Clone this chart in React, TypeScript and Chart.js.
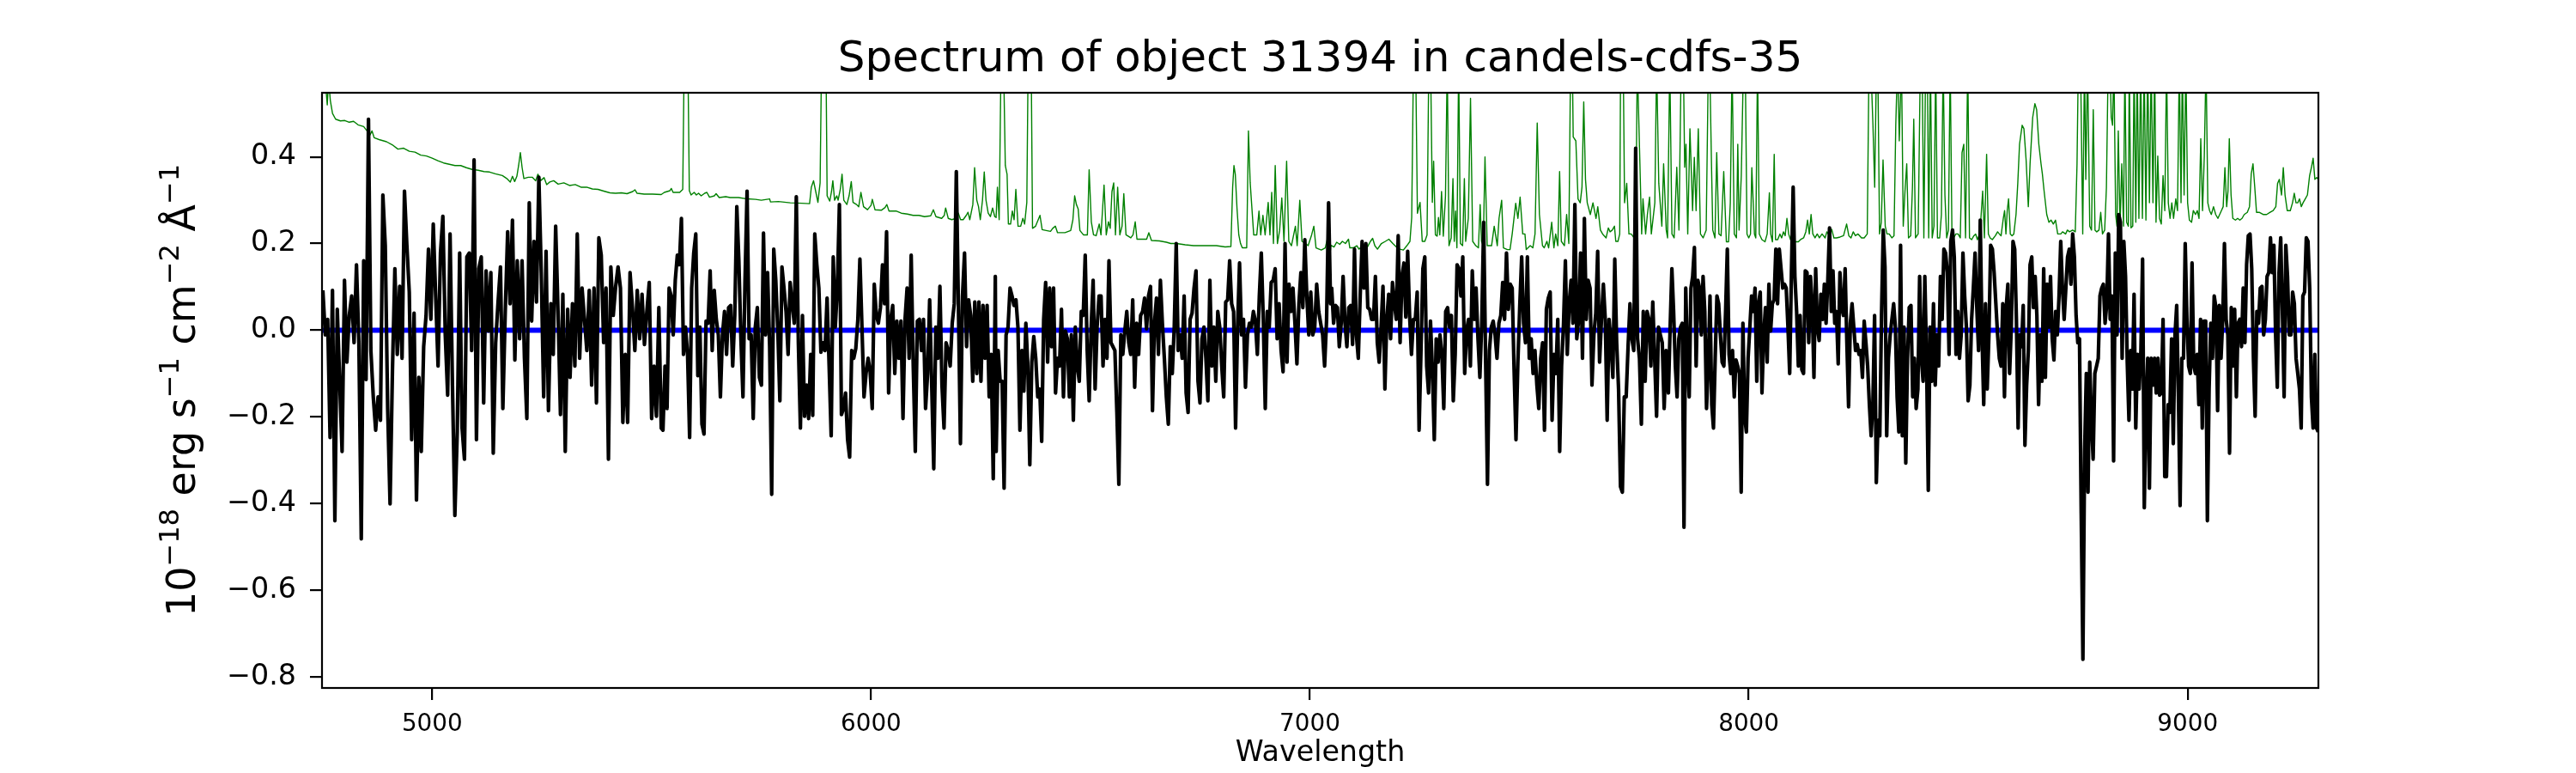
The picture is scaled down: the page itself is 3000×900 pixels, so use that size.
import React, { useEffect, useRef } from "react";
import { Chart, registerables } from "chart.js";

Chart.register(...registerables);

const TITLE = "Spectrum of object 31394 in candels-cdfs-35";
const X_LABEL = "Wavelength";
// [text, isSuperscript]
const Y_LABEL_PARTS: [string, boolean][] = [
  ["10", false],
  ["\u221218", true],
  [" erg s", false],
  ["\u22121", true],
  [" cm", false],
  ["\u22122", true],
  [" \u00c5", false],
  ["\u22121", true],
];

const X_RANGE = [4749, 9298];
const Y_RANGE = [-0.826, 0.548];
const X_TICKS = [5000, 6000, 7000, 8000, 9000];
const Y_TICKS = [-0.8, -0.6, -0.4, -0.2, 0, 0.2, 0.4];
const ZERO_LEVEL = 0;

// Flux (black) — each block sampled evenly between its start/end wavelength
const FLUX_RANGES = [
  [4751, 5522],
  [5525.9, 6283.2],
  [6285.2, 7047.1],
  [7049.7, 7811.6],
  [7813, 8574.9],
  [8578.8, 9297.6],
];

const FLUX_A = [
  0.092, -0.011, 0.025, -0.248, 0.092, -0.44, 0.048, -0.118, -0.28, 0.115,
  -0.074, 0.034, 0.079, -0.029, 0.151, -0.029, -0.482, 0.16, -0.114, 0.487,
  -0.047, -0.154, -0.231, -0.154, -0.208, 0.312, 0.196, -0.181, -0.401, -0.091,
  0.142, -0.056, 0.101, -0.065, 0.321, 0.196, 0.088, -0.253, 0.039, -0.392,
  -0.109, -0.28, -0.038, 0.034, 0.187, 0.025, 0.245, 0.079, -0.083, 0.178,
  0.263, -0.011, -0.15, 0.222, -0.127, -0.428, -0.235, 0.178, -0.226, -0.298,
  0.169, 0.178, -0.047, 0.393, -0.253, 0.142, 0.169, -0.168, 0.137, -0.002,
  0.133, -0.284, -0.029, 0.065, 0.146, -0.181, 0.043, 0.227, 0.061, 0.254,
  -0.069, 0.16, -0.02, 0.16, -0.065, -0.204, 0.294, 0.021, 0.205, 0.065,
  0.353, 0.133, -0.154, 0.182, -0.186, 0.061, -0.056, 0.24, 0.043, -0.195,
  0.083, -0.28, 0.048, -0.109, 0.061, -0.083, 0.222, -0.065, 0.097, 0.025,
  -0.047, 0.092, -0.127, 0.097, -0.168, 0.213, 0.173, -0.029, 0.097, -0.298,
  0.146, 0.034, 0.101, 0.146, 0.097, -0.213, -0.056, -0.213, 0.133, 0.052,
  -0.047, 0.092, -0.02, 0.083, -0.033, 0.043, 0.11, -0.204, -0.083, -0.199,
  0.052, -0.226,
];

const FLUX_B = [
  -0.231, -0.083, -0.181, 0.097, 0.079, -0.011, 0.115, 0.173, 0.151, 0.258,
  -0.056, 0.007, -0.056, -0.248, 0.097, 0.178, 0.222, -0.105, 0.007, -0.217,
  -0.24, 0.021, 0.016, 0.137, -0.047, 0.092, 0.025, -0.011, -0.154, -0.011,
  0.043, -0.056, 0.052, 0.057, -0.083, 0.034, 0.285, 0.16, -0.02, -0.154,
  0.115, 0.321, -0.02, -0.011, -0.204, 0.007, 0.052, -0.109, -0.127, 0.224,
  -0.011, 0.133, -0.038, -0.379, 0.187, 0.115, -0.002, -0.163, 0.146, 0.097,
  0.043, -0.056, 0.11, 0.061, 0.016, 0.308, -0.029, -0.226, 0.034, -0.199,
  -0.127, -0.204, -0.056, -0.197, 0.222, 0.151, 0.097, -0.051, -0.029, -0.047,
  0.074, -0.083, -0.244, 0.169, 0.007, 0.097, 0.29, -0.195, -0.181, -0.145,
  -0.253, -0.293, -0.047, -0.065, -0.042, 0.025, 0.164, 0.007, -0.154, -0.1,
  -0.065, -0.096, -0.181, 0.106, 0.034, 0.016, 0.052, 0.151, 0.061, 0.227,
  -0.145, 0.025, 0.057, -0.1, 0.021, -0.065, 0.021, -0.204, 0.025, 0.097,
  -0.065, 0.173, -0.083, -0.28, 0.021, 0.025, -0.047, 0.025, -0.181, -0.1,
  0.07, -0.127, -0.32, 0.007, -0.065, 0.101, -0.127, -0.226, -0.029, -0.047,
  -0.083, 0.016, 0.061, 0.366, 0.061, -0.262, 0.079, 0.178, -0.038, 0.07,
  0.034, -0.118, 0.065, -0.1, 0.065, -0.118, 0.057, -0.065, 0.057, -0.154,
  -0.056, -0.343, 0.124,
];

const FLUX_C = [
  -0.28, -0.047, -0.118, -0.118, -0.365, -0.011, 0.007, 0.097, 0.079, 0.057,
  0.07, 0.007, -0.231, -0.047, -0.141, 0.016, -0.083, -0.311, -0.074, -0.015,
  -0.065, -0.154, -0.136, -0.257, 0.025, 0.11, -0.074, 0.097, -0.038, 0.097,
  -0.145, -0.065, -0.083, 0.048, -0.154, -0.002, -0.02, -0.154, -0.011, -0.208,
  0.007, -0.083, -0.118, 0.043, 0.034, 0.173, -0.047, -0.163, 0.007, 0.115,
  -0.136, 0.007, 0.079, 0.079, -0.083, 0.025, -0.065, 0.16, -0.029, -0.038,
  -0.047, -0.19, -0.356, -0.011, -0.056, -0.002, 0.043, -0.029, -0.056, 0.07,
  -0.132, 0.016, -0.056, 0.034, 0.043, 0.074, 0.003, 0.079, 0.101, -0.186,
  0.016, 0.074, -0.056, 0.115, 0.016, -0.065, -0.154, -0.217, -0.038, -0.1,
  0.007, 0.2, -0.047, -0.011, -0.065, 0.079, -0.145, -0.19, 0.025, 0.039,
  0.097, 0.137, -0.118, -0.168, -0.02, 0.007, -0.065, -0.163, 0.115, -0.083,
  0.007, -0.118, 0.043, 0.007, -0.083, -0.154, 0.065, 0.07, 0.16, 0.061,
  0.043, -0.226, 0.007, 0.155, -0.011, 0.025, -0.132, -0.011, 0.016, 0.007,
  0.043, 0.021, -0.056, 0.079, 0.178, 0.025, -0.181, 0.043, 0.007, 0.11,
  0.115, 0.142, -0.02, 0.061, -0.047, -0.096, 0.2, -0.074, 0.106, 0.043,
  0.097, 0.016, -0.078, 0.061, 0.133, 0.052, 0.209, 0.079, -0.011, 0.088,
  -0.011, 0.007, 0.106, 0.043, 0.016, -0.011, -0.083, 0.025, 0.294, 0.061,
];

const FLUX_D = [
  0.097, 0.016, 0.057, 0.052, -0.038, 0.016, 0.124, 0.016, -0.038, 0.052,
  0.057, -0.033, 0.187, -0.011, -0.065, 0.079, 0.205, 0.097, 0.2, 0.052,
  0.048, 0.025, 0.025, 0.124, -0.029, -0.074, 0.007, 0.101, -0.136, 0.025,
  0.083, -0.02, 0.11, 0.061, 0.025, 0.218, -0.029, 0.124, 0.155, 0.03,
  0.182, 0.034, -0.056, 0.025, 0.025, 0.088, -0.231, -0.047, 0.142, 0.169,
  -0.083, -0.145, 0.021, -0.091, -0.253, -0.02, -0.074, -0.011, -0.056, -0.181,
  0.043, 0.052, 0.007, 0.034, -0.163, -0.056, 0.151, 0.142, 0.079, 0.169,
  -0.1, -0.002, 0.025, -0.083, 0.137, 0.025, 0.097, -0.02, -0.109, 0.021,
  0.249, -0.065, -0.356, -0.047, 0.007, 0.021, -0.011, -0.065, 0.016, 0.034,
  0.11, 0.025, 0.178, 0.048, 0.106, 0.097, -0.091, -0.253, -0.074, 0.057,
  0.169, 0.016, -0.029, 0.169, -0.065, -0.02, -0.1, -0.047, -0.127, -0.181,
  -0.065, -0.029, -0.231, 0.048, 0.074, 0.088, -0.208, -0.056, -0.1, 0.025,
  -0.28, -0.083, 0.012, 0.16, -0.056, 0.061, 0.115, 0.016, 0.29, -0.02,
  0.025, 0.178, -0.065, 0.258, 0.025, 0.115, 0.097, -0.127, -0.011, 0.039,
  0.182, -0.074, 0.025, 0.106, 0.025, -0.208, 0.025, -0.029, -0.109, 0.164,
  -0.029, -0.136, -0.361, -0.374, -0.154, -0.154, -0.038, 0.061, -0.02, -0.047,
  0.42, -0.02, -0.065, -0.217, 0.043, -0.118, 0.043, 0.025, -0.083, 0.065,
  -0.065, -0.199, 0.007, -0.011, -0.029, -0.181, -0.047,
];

const FLUX_E = [
  -0.065, -0.145, 0.007, 0.142, 0.043, -0.083, -0.154, -0.02, 0.007, 0.016,
  -0.455, 0.097, -0.065, -0.154, 0.097, 0.124, 0.191, -0.083, 0.115, 0.097,
  -0.011, 0.124, 0.043, -0.181, -0.083, 0.079, -0.172, -0.226, -0.065, 0.079,
  0.061, -0.011, -0.074, -0.083, 0.043, 0.187, -0.056, -0.1, -0.047, -0.154,
  -0.069, -0.083, -0.1, -0.374, 0.016, -0.199, -0.235, -0.065, 0.007, 0.079,
  0.043, 0.097, -0.118, 0.061, 0.088, -0.145, -0.011, 0.052, -0.074, 0.106,
  -0.002, 0.061, 0.07, 0.187, 0.061, 0.187, 0.142, 0.097, 0.106, 0.097,
  0.007, -0.1, 0.133, 0.33, 0.124, 0.043, -0.083, 0.034, -0.091, -0.1,
  0.137, 0.133, -0.029, 0.124, 0.061, -0.109, 0.142, 0.007, -0.024, 0.083,
  0.025, 0.106, 0.016, 0.115, 0.236, 0.043, 0.137, 0.016, 0.043, -0.078,
  0.133, 0.052, 0.034, 0.142, -0.029, -0.177, 0.016, 0.061, 0.007, -0.047,
  -0.033, -0.056, -0.047, -0.109, 0.021, -0.029, -0.083, -0.172, -0.244, -0.172,
  0.034, -0.352, -0.208, -0.244, 0.034, 0.231, 0.146, -0.244, -0.065, -0.011,
  0.025, 0.061, 0.007, -0.154, -0.235, 0.196, -0.244, 0.007, -0.307, -0.065,
  0.052, 0.057, -0.154, -0.065, -0.181, -0.136, 0.124, -0.065, -0.118, 0.124,
  -0.065, -0.37, 0.007, -0.118, 0.061, -0.127, -0.011, -0.083, 0.124, 0.025,
  0.187, 0.178, 0.133, -0.056, 0.205, 0.231, 0.169, -0.056, 0.043, -0.065,
  -0.011, 0.178, 0.079, 0.007, -0.163, -0.127, 0.025, 0.097, 0.178, 0.052,
  -0.047, 0.254, -0.011, -0.172, 0.061, -0.136, -0.011, 0.196, 0.187, 0.133,
  0.061, -0.011, -0.065, -0.083,
];

const FLUX_F = [
  0.061, -0.154, 0.052, 0.106, -0.1, 0.007, 0.205, 0.187, 0.025, -0.226,
  -0.011, -0.038, 0.057, -0.266, -0.127, -0.047, 0.151, 0.169, 0.052, 0.124,
  0.034, -0.172, -0.011, -0.118, 0.142, -0.109, 0.106, 0.007, 0.124, -0.02,
  -0.069, 0.043, -0.011, 0.079, 0.205, 0.097, 0.025, 0.097, 0.169, 0.187,
  0.106, 0.222, 0.169, 0.034, -0.029, -0.02, -0.423, -0.76, -0.28, -0.1,
  -0.374, -0.074, -0.208, -0.298, -0.1, -0.083, -0.065, 0.079, 0.097, 0.106,
  0.016, 0.061, 0.222, 0.025, 0.079, -0.302, 0.178, -0.011, 0.267, 0.249,
  -0.065, 0.205, 0.124, -0.074, -0.208, -0.047, -0.136, 0.083, -0.226, -0.056,
  -0.136, -0.047, 0.164, -0.41, -0.172, -0.065, -0.365, -0.065, -0.127, -0.065,
  -0.145, -0.065, -0.15, -0.145, 0.025, -0.338, -0.338, -0.172, -0.19, -0.02,
  -0.262, -0.011, 0.057, -0.154, -0.405, -0.065, -0.065, 0.2, 0.025, -0.083,
  -0.1, 0.155, -0.083, -0.1, -0.056, -0.172, 0.025, -0.226, 0.021, 0.021,
  -0.44, -0.136, 0.016, -0.065, 0.079, 0.052, -0.186, 0.057, -0.065, 0.025,
  0.2, 0.025, -0.011, -0.284, 0.052, -0.083, 0.048, -0.154, 0.016, 0.025,
  -0.038, 0.097, -0.029, 0.151, 0.218, 0.222, 0.142, -0.065, -0.199, 0.043,
  0.016, 0.097, 0.101, -0.011, 0.025, 0.124, 0.133, 0.213, 0.133, 0.196,
  -0.011, -0.132, 0.133, 0.213, 0.043, -0.154, 0.196, 0.124, -0.011, -0.011,
  0.088, 0.061, -0.065, -0.1, -0.136, -0.226, 0.079, 0.088, 0.213, 0.205,
  0.097, -0.154, -0.226, -0.056, -0.226, -0.235,
];

const FLUX_SEGMENTS = [FLUX_A, FLUX_B, FLUX_C, FLUX_D, FLUX_E, FLUX_F];

// Noise (green) — [wavelength, value]
const NOISE_A = [
  [4751, 0.6], [4757, 0.57], [4761, 0.52], [4764, 0.58], [4768, 0.53], [4773, 0.5], [4780, 0.487],
  [4791, 0.483], [4801, 0.484], [4811, 0.48], [4821, 0.482], [4831, 0.474], [4844, 0.47], [4853, 0.458],
  [4858, 0.45], [4863, 0.46], [4868, 0.444], [4879, 0.44], [4896, 0.435], [4909, 0.428], [4922, 0.418],
  [4935, 0.42], [4948, 0.413], [4961, 0.411], [4974, 0.404], [4987, 0.402], [5000, 0.397], [5013, 0.391],
  [5026, 0.386], [5039, 0.383], [5052, 0.38], [5065, 0.38], [5078, 0.375], [5091, 0.371], [5105, 0.369],
  [5118, 0.366], [5131, 0.365], [5144, 0.361], [5160, 0.357], [5170, 0.35], [5178, 0.342], [5183, 0.355],
  [5188, 0.343], [5193, 0.355], [5197, 0.38], [5201, 0.41], [5205, 0.375], [5209, 0.35], [5219, 0.353],
  [5228, 0.353], [5236, 0.345], [5241, 0.36], [5247, 0.345], [5255, 0.352], [5261, 0.336], [5268, 0.342],
  [5277, 0.345], [5287, 0.337], [5300, 0.34], [5313, 0.334], [5326, 0.336], [5339, 0.33], [5352, 0.33],
  [5365, 0.326], [5378, 0.325], [5391, 0.321], [5405, 0.317], [5418, 0.316], [5431, 0.317], [5444, 0.315],
  [5457, 0.32], [5462, 0.324], [5467, 0.316], [5483, 0.314], [5502, 0.314], [5522, 0.313],
];

const NOISE_B = [
  [5529, 0.318], [5542, 0.322], [5545, 0.327], [5549, 0.318], [5564, 0.318], [5571, 0.325], [5574, 0.6],
  [5579, 0.65], [5583, 0.6], [5586, 0.322], [5590, 0.312], [5597, 0.318], [5602, 0.312], [5607, 0.316],
  [5613, 0.31], [5621, 0.316], [5626, 0.318], [5632, 0.307], [5643, 0.31], [5647, 0.315], [5654, 0.306],
  [5669, 0.308], [5679, 0.306], [5698, 0.306], [5718, 0.303], [5737, 0.302], [5750, 0.3], [5769, 0.303],
  [5771, 0.296], [5789, 0.297], [5816, 0.294], [5842, 0.293], [5860, 0.292], [5864, 0.33], [5869, 0.345],
  [5874, 0.32], [5879, 0.295], [5884, 0.34], [5887, 0.6], [5891, 0.62], [5895, 0.62], [5898, 0.55],
  [5900, 0.31], [5906, 0.298], [5910, 0.32], [5913, 0.345], [5917, 0.3], [5922, 0.31], [5925, 0.3],
  [5930, 0.325], [5934, 0.36], [5938, 0.3], [5945, 0.29], [5950, 0.31], [5955, 0.343], [5959, 0.295],
  [5967, 0.29], [5972, 0.285], [5977, 0.318], [5983, 0.285], [5992, 0.278], [6000, 0.288], [6003, 0.302],
  [6009, 0.278], [6024, 0.277], [6032, 0.283], [6036, 0.29], [6041, 0.275], [6057, 0.275], [6069, 0.27],
  [6083, 0.268], [6096, 0.265], [6109, 0.265], [6122, 0.262], [6136, 0.264], [6142, 0.278], [6148, 0.262],
  [6161, 0.258], [6167, 0.265], [6170, 0.282], [6176, 0.258], [6184, 0.255], [6194, 0.258], [6199, 0.27],
  [6204, 0.255], [6210, 0.255], [6217, 0.265], [6221, 0.272], [6225, 0.255], [6232, 0.29], [6236, 0.375],
  [6241, 0.3], [6245, 0.285], [6249, 0.255], [6254, 0.3], [6258, 0.365], [6262, 0.3], [6267, 0.27],
  [6272, 0.262], [6277, 0.282], [6282, 0.262],
];

const NOISE_C = [
  [6285, 0.26], [6288, 0.33], [6292, 0.255], [6296, 0.6], [6302, 0.62], [6306, 0.38], [6310, 0.36],
  [6313, 0.245], [6318, 0.245], [6322, 0.275], [6326, 0.255], [6330, 0.325], [6335, 0.24], [6341, 0.24],
  [6346, 0.258], [6350, 0.245], [6355, 0.295], [6358, 0.62], [6365, 0.62], [6368, 0.235], [6375, 0.24],
  [6381, 0.255], [6385, 0.265], [6390, 0.232], [6399, 0.23], [6409, 0.228], [6414, 0.235], [6420, 0.24],
  [6425, 0.225], [6442, 0.225], [6455, 0.23], [6460, 0.255], [6464, 0.31], [6468, 0.29], [6472, 0.28],
  [6476, 0.23], [6484, 0.22], [6493, 0.22], [6497, 0.37], [6502, 0.25], [6507, 0.22], [6513, 0.218],
  [6520, 0.245], [6524, 0.22], [6531, 0.335], [6536, 0.22], [6541, 0.25], [6545, 0.235], [6549, 0.32],
  [6553, 0.34], [6557, 0.22], [6562, 0.33], [6567, 0.22], [6572, 0.24], [6576, 0.315], [6581, 0.22],
  [6592, 0.213], [6597, 0.22], [6602, 0.25], [6606, 0.21], [6618, 0.21], [6628, 0.21], [6633, 0.225],
  [6639, 0.207], [6657, 0.206], [6673, 0.203], [6683, 0.2], [6696, 0.2], [6716, 0.197], [6735, 0.195],
  [6748, 0.195], [6774, 0.195], [6787, 0.195], [6807, 0.192], [6820, 0.193], [6824, 0.33], [6827, 0.38],
  [6830, 0.36], [6834, 0.28], [6838, 0.22], [6842, 0.2], [6846, 0.19], [6856, 0.19], [6860, 0.46],
  [6864, 0.34], [6868, 0.28], [6872, 0.22], [6879, 0.22], [6884, 0.275], [6888, 0.22], [6893, 0.265],
  [6898, 0.22], [6905, 0.295], [6909, 0.22], [6913, 0.318], [6917, 0.2], [6921, 0.38], [6926, 0.2],
  [6931, 0.23], [6936, 0.305], [6941, 0.205], [6947, 0.39], [6952, 0.205], [6958, 0.195], [6967, 0.24],
  [6971, 0.195], [6977, 0.3], [6982, 0.205], [6990, 0.2], [6996, 0.195], [7004, 0.22], [7009, 0.24],
  [7014, 0.19], [7026, 0.185], [7035, 0.19], [7042, 0.22], [7047, 0.185],
];

const NOISE_D = [
  [7048, 0.196], [7055, 0.192], [7061, 0.203], [7068, 0.198], [7074, 0.205], [7081, 0.2], [7088, 0.21],
  [7091, 0.19], [7099, 0.19], [7107, 0.195], [7112, 0.187], [7120, 0.195], [7130, 0.19], [7138, 0.205],
  [7143, 0.212], [7148, 0.195], [7154, 0.187], [7163, 0.2], [7172, 0.205], [7180, 0.21], [7189, 0.2],
  [7197, 0.192], [7205, 0.187], [7213, 0.185], [7221, 0.195], [7228, 0.205], [7232, 0.26], [7236, 0.62],
  [7241, 0.62], [7245, 0.27], [7251, 0.295], [7256, 0.205], [7262, 0.205], [7267, 0.22], [7271, 0.62],
  [7275, 0.62], [7279, 0.295], [7282, 0.39], [7286, 0.22], [7290, 0.217], [7293, 0.26], [7296, 0.22],
  [7300, 0.32], [7304, 0.217], [7309, 0.31], [7313, 0.62], [7317, 0.195], [7322, 0.213], [7326, 0.35],
  [7329, 0.205], [7332, 0.275], [7335, 0.19], [7339, 0.62], [7343, 0.2], [7348, 0.195], [7352, 0.35],
  [7355, 0.205], [7361, 0.258], [7366, 0.535], [7371, 0.205], [7378, 0.195], [7384, 0.19], [7388, 0.29],
  [7391, 0.205], [7395, 0.195], [7399, 0.4], [7404, 0.195], [7414, 0.195], [7420, 0.24], [7427, 0.195],
  [7431, 0.258], [7437, 0.3], [7441, 0.19], [7450, 0.186], [7456, 0.186], [7461, 0.222], [7469, 0.293],
  [7474, 0.258], [7479, 0.307], [7485, 0.222], [7490, 0.222], [7493, 0.186], [7502, 0.195], [7508, 0.19],
  [7513, 0.222], [7518, 0.478], [7523, 0.267], [7530, 0.195], [7534, 0.19], [7540, 0.205], [7544, 0.19],
  [7551, 0.249], [7556, 0.19], [7560, 0.222], [7565, 0.195], [7569, 0.366], [7573, 0.205], [7580, 0.195],
  [7585, 0.267], [7590, 0.2], [7594, 0.62], [7598, 0.62], [7600, 0.446], [7606, 0.437], [7611, 0.303],
  [7616, 0.294], [7620, 0.33], [7624, 0.527], [7628, 0.348], [7632, 0.294], [7639, 0.267], [7645, 0.294],
  [7652, 0.258], [7656, 0.285], [7662, 0.231], [7667, 0.222], [7675, 0.213], [7680, 0.236], [7684, 0.227],
  [7689, 0.231], [7694, 0.24], [7697, 0.205], [7702, 0.205], [7706, 0.222], [7708, 0.62], [7714, 0.62],
  [7717, 0.294], [7722, 0.339], [7727, 0.222], [7732, 0.222], [7739, 0.213], [7743, 0.285], [7746, 0.62],
  [7752, 0.384], [7756, 0.222], [7759, 0.303], [7765, 0.222], [7769, 0.267], [7774, 0.307], [7778, 0.222],
  [7786, 0.294], [7790, 0.62], [7795, 0.339], [7802, 0.24], [7806, 0.384], [7812, 0.231],
];

const NOISE_E = [
  [7815, 0.213], [7820, 0.62], [7825, 0.222], [7830, 0.213], [7836, 0.376], [7841, 0.231], [7846, 0.62],
  [7851, 0.62], [7854, 0.376], [7857, 0.429], [7861, 0.222], [7866, 0.465], [7872, 0.276], [7876, 0.399],
  [7880, 0.276], [7885, 0.465], [7890, 0.222], [7896, 0.213], [7903, 0.231], [7908, 0.62], [7911, 0.62],
  [7915, 0.388], [7918, 0.231], [7923, 0.213], [7927, 0.41], [7932, 0.222], [7937, 0.218], [7943, 0.366],
  [7949, 0.204], [7954, 0.204], [7958, 0.294], [7962, 0.62], [7967, 0.222], [7972, 0.213], [7975, 0.429],
  [7978, 0.231], [7983, 0.357], [7988, 0.62], [7992, 0.62], [7996, 0.222], [8000, 0.213], [8004, 0.222],
  [8007, 0.375], [8013, 0.222], [8016, 0.213], [8020, 0.62], [8024, 0.222], [8030, 0.209], [8037, 0.204],
  [8042, 0.222], [8047, 0.317], [8050, 0.222], [8054, 0.204], [8058, 0.406], [8061, 0.209], [8066, 0.209],
  [8071, 0.222], [8075, 0.213], [8079, 0.227], [8083, 0.218], [8087, 0.258], [8091, 0.222], [8095, 0.209],
  [8102, 0.209], [8106, 0.204], [8113, 0.204], [8118, 0.209], [8125, 0.213], [8130, 0.227], [8134, 0.254],
  [8138, 0.222], [8142, 0.267], [8146, 0.222], [8151, 0.213], [8156, 0.222], [8161, 0.213], [8167, 0.222],
  [8174, 0.213], [8178, 0.227], [8184, 0.218], [8189, 0.233], [8194, 0.213], [8200, 0.213], [8208, 0.215],
  [8216, 0.218], [8223, 0.245], [8228, 0.218], [8233, 0.213], [8238, 0.227], [8243, 0.218], [8249, 0.222],
  [8257, 0.213], [8263, 0.213], [8270, 0.222], [8274, 0.62], [8278, 0.62], [8283, 0.473], [8287, 0.33],
  [8291, 0.62], [8294, 0.62], [8298, 0.222], [8302, 0.249], [8306, 0.393], [8311, 0.24], [8315, 0.222],
  [8320, 0.222], [8326, 0.213], [8331, 0.218], [8335, 0.473], [8339, 0.62], [8343, 0.437], [8348, 0.62],
  [8352, 0.24], [8356, 0.321], [8360, 0.384], [8364, 0.213], [8369, 0.218], [8373, 0.33], [8376, 0.487],
  [8380, 0.213], [8386, 0.222], [8391, 0.62], [8395, 0.62], [8399, 0.213], [8403, 0.62], [8407, 0.62],
  [8410, 0.213], [8414, 0.62], [8418, 0.213], [8422, 0.24], [8426, 0.62], [8430, 0.213], [8435, 0.213],
  [8439, 0.267], [8443, 0.62], [8447, 0.312], [8451, 0.213], [8455, 0.231], [8459, 0.62], [8463, 0.222],
  [8467, 0.213], [8472, 0.222], [8477, 0.222], [8482, 0.213], [8486, 0.41], [8490, 0.429], [8494, 0.213],
  [8499, 0.62], [8503, 0.213], [8508, 0.209], [8513, 0.218], [8517, 0.222], [8521, 0.209], [8526, 0.222],
  [8529, 0.258], [8533, 0.321], [8537, 0.213], [8542, 0.406], [8546, 0.222], [8550, 0.213], [8555, 0.209],
  [8562, 0.218], [8567, 0.227], [8571, 0.222], [8575, 0.218],
];

const NOISE_F = [
  [8580, 0.258], [8583, 0.276], [8586, 0.222], [8589, 0.276], [8592, 0.303], [8596, 0.222], [8600, 0.218],
  [8604, 0.222], [8609, 0.267], [8613, 0.339], [8617, 0.429], [8623, 0.473], [8627, 0.465], [8632, 0.393],
  [8637, 0.285], [8641, 0.384], [8647, 0.491], [8652, 0.523], [8656, 0.509], [8661, 0.429], [8666, 0.384],
  [8669, 0.361], [8673, 0.321], [8679, 0.267], [8684, 0.249], [8689, 0.254], [8694, 0.245], [8699, 0.254],
  [8704, 0.222], [8711, 0.222], [8715, 0.227], [8722, 0.222], [8726, 0.231], [8731, 0.227], [8738, 0.231],
  [8744, 0.227], [8748, 0.384], [8751, 0.62], [8756, 0.62], [8761, 0.222], [8765, 0.62], [8768, 0.348],
  [8772, 0.62], [8777, 0.24], [8781, 0.231], [8785, 0.509], [8789, 0.231], [8793, 0.227], [8798, 0.231],
  [8802, 0.272], [8806, 0.222], [8811, 0.231], [8815, 0.33], [8819, 0.62], [8823, 0.62], [8826, 0.491],
  [8829, 0.473], [8832, 0.62], [8836, 0.267], [8839, 0.24], [8842, 0.46], [8846, 0.24], [8850, 0.384],
  [8854, 0.24], [8857, 0.62], [8861, 0.249], [8865, 0.24], [8867, 0.62], [8871, 0.236], [8875, 0.24],
  [8878, 0.62], [8882, 0.249], [8885, 0.62], [8889, 0.258], [8893, 0.62], [8897, 0.258], [8901, 0.62],
  [8905, 0.254], [8909, 0.62], [8913, 0.294], [8917, 0.62], [8921, 0.294], [8925, 0.62], [8928, 0.249],
  [8932, 0.402], [8936, 0.258], [8940, 0.245], [8944, 0.357], [8948, 0.276], [8952, 0.62], [8956, 0.294],
  [8960, 0.258], [8964, 0.294], [8968, 0.258], [8973, 0.303], [8977, 0.276], [8981, 0.62], [8985, 0.294],
  [8988, 0.62], [8992, 0.312], [8996, 0.62], [9000, 0.294], [9004, 0.254], [9009, 0.249], [9013, 0.276],
  [9018, 0.267], [9022, 0.276], [9026, 0.258], [9030, 0.442], [9034, 0.276], [9038, 0.402], [9042, 0.62],
  [9046, 0.294], [9050, 0.276], [9054, 0.267], [9059, 0.285], [9064, 0.267], [9069, 0.258], [9073, 0.267],
  [9077, 0.276], [9081, 0.285], [9085, 0.375], [9089, 0.285], [9092, 0.321], [9095, 0.442], [9099, 0.312],
  [9103, 0.258], [9109, 0.254], [9114, 0.258], [9119, 0.254], [9124, 0.258], [9129, 0.267], [9136, 0.272],
  [9141, 0.285], [9145, 0.361], [9149, 0.384], [9153, 0.33], [9157, 0.272], [9163, 0.272], [9172, 0.267],
  [9180, 0.267], [9188, 0.272], [9195, 0.276], [9201, 0.285], [9205, 0.339], [9209, 0.348], [9214, 0.312],
  [9218, 0.375], [9222, 0.312], [9227, 0.276], [9234, 0.276], [9239, 0.294], [9243, 0.316], [9247, 0.294],
  [9251, 0.294], [9255, 0.303], [9259, 0.285], [9263, 0.294], [9268, 0.303], [9273, 0.312], [9278, 0.357],
  [9282, 0.375], [9286, 0.397], [9290, 0.348], [9294, 0.352], [9298, 0.348],
];

const NOISE_SEGMENTS = [NOISE_A, NOISE_B, NOISE_C, NOISE_D, NOISE_E, NOISE_F];

const FONT = '"DejaVu Sans", "Liberation Sans", sans-serif';

function buildFlux() {
  const pts: { x: number; y: number }[] = [];
  FLUX_SEGMENTS.forEach((seg, s) => {
    const [a, b] = FLUX_RANGES[s];
    const n = seg.length;
    seg.forEach((v, i) => {
      pts.push({ x: a + ((b - a) * i) / (n - 1), y: v });
    });
  });
  return pts;
}

function buildNoise() {
  const pts: { x: number; y: number }[] = [];
  NOISE_SEGMENTS.forEach((seg) => seg.forEach(([x, y]) => pts.push({ x, y })));
  return pts;
}

function fmtY(v: number) {
  const r = Math.round(v * 10) / 10;
  if (Math.abs(r) < 1e-9) return "0.0";
  return r < 0 ? "\u2212" + Math.abs(r).toFixed(1) : r.toFixed(1);
}

const decorPlugin = {
  id: "decor",
  afterDraw(chart: any) {
    const { ctx, chartArea } = chart;
    const { left, right, top, bottom } = chartArea;
    ctx.save();
    // frame
    ctx.strokeStyle = "#000";
    ctx.lineWidth = 2.2;
    ctx.strokeRect(left, top, right - left, bottom - top);
    ctx.fillStyle = "#000";
    // title
    ctx.font = `50px ${FONT}`;
    ctx.textAlign = "center";
    ctx.textBaseline = "alphabetic";
    ctx.fillText(TITLE, (left + right) / 2, 83);
    // x label
    ctx.font = `33.3px ${FONT}`;
    ctx.fillText(X_LABEL, (left + right) / 2, 886);
    // y label with superscripts
    const main = 46;
    const sup = 32;
    const raise = 19;
    ctx.textAlign = "left";
    const widths = Y_LABEL_PARTS.map(([t, s]) => {
      ctx.font = `${s ? sup : main}px ${FONT}`;
      return ctx.measureText(t).width;
    });
    const total = widths.reduce((a, b) => a + b, 0);
    ctx.translate(227, (top + bottom) / 2);
    ctx.rotate(-Math.PI / 2);
    let x = -total / 2;
    Y_LABEL_PARTS.forEach(([t, s], i) => {
      ctx.font = `${s ? sup : main}px ${FONT}`;
      ctx.fillText(t, x, s ? -raise : 0);
      x += widths[i];
    });
    ctx.restore();
  },
};

export default function App() {
  const ref = useRef<HTMLCanvasElement>(null);
  useEffect(() => {
    document.body.style.margin = "0";
    const canvas = ref.current!;
    const flux = buildFlux();
    const noise = buildNoise();
    const zero = [
      { x: X_RANGE[0], y: ZERO_LEVEL },
      { x: X_RANGE[1], y: ZERO_LEVEL },
    ];
    const chart = new Chart(canvas, {
      type: "line",
      data: {
        datasets: [
          {
            data: flux,
            borderColor: "#000000",
            borderWidth: 4.2,
            pointRadius: 0,
            tension: 0,
            borderJoinStyle: "round",
            borderCapStyle: "butt",
          },
          {
            data: noise,
            borderColor: "#008000",
            borderWidth: 1.4,
            pointRadius: 0,
            tension: 0,
            borderJoinStyle: "round",
          },
          {
            data: zero,
            borderColor: "#0000ff",
            borderWidth: 6,
            pointRadius: 0,
            tension: 0,
          },
        ],
      },
      plugins: [decorPlugin],
      options: {
        responsive: false,
        animation: false,
        devicePixelRatio: 1,
        parsing: false,
        normalized: true,
        events: [],
        layout: { padding: { left: 0, right: 300, top: 108, bottom: 0 } },
        plugins: {
          legend: { display: false },
          title: { display: false },
          tooltip: { enabled: false },
        },
        scales: {
          x: {
            type: "linear",
            position: "bottom",
            min: X_RANGE[0],
            max: X_RANGE[1],
            border: { display: false },
            grid: {
              drawOnChartArea: false,
              drawTicks: true,
              tickLength: 14,
              lineWidth: 2.2,
              color: "#000",
            },
            ticks: {
              autoSkip: false,
              maxRotation: 0,
              padding: 12,
              color: "#000",
              font: { family: FONT, size: 27.8 },
              callback: (v: any) => String(v),
            },
            afterBuildTicks: (scale: any) => {
              scale.ticks = X_TICKS.map((v) => ({ value: v }));
            },
            afterFit: (scale: any) => {
              scale.height = 99;
            },
          },
          y: {
            type: "linear",
            position: "left",
            min: Y_RANGE[0],
            max: Y_RANGE[1],
            border: { display: false },
            grid: {
              drawOnChartArea: false,
              drawTicks: true,
              tickLength: 14,
              lineWidth: 2.2,
              color: "#000",
            },
            ticks: {
              autoSkip: false,
              padding: 16,
              color: "#000",
              font: { family: FONT, size: 33.3 },
              callback: (v: any) => fmtY(Number(v)),
            },
            afterBuildTicks: (scale: any) => {
              scale.ticks = Y_TICKS.map((v) => ({ value: v }));
            },
            afterFit: (scale: any) => {
              scale.width = 375;
            },
          },
        },
      },
    } as any);
    return () => chart.destroy();
  }, []);
  return (
    <canvas
      ref={ref}
      width={3000}
      height={900}
      style={{ display: "block", width: "3000px", height: "900px" }}
    />
  );
}
